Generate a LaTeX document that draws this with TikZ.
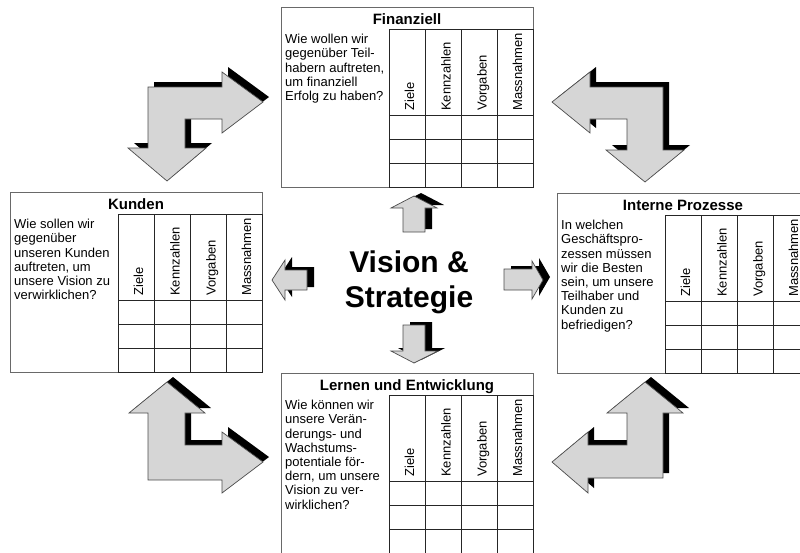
\documentclass[tikz,border=0pt]{standalone}
\usepackage{fontspec}
\setmainfont{Liberation Sans}
\usepackage{tikz}
\usetikzlibrary{shapes,arrows}
\definecolor{pfeilgrau}{RGB}{214,214,214}
\definecolor{rahmengrau}{RGB}{105,105,105}
\tikzstyle{pfeil} = [draw=black!70, line width=0.7pt, fill=pfeilgrau]
\tikzstyle{schatten} = [fill=black]

% Blockpfeil mit Schlagschatten nach rechts oben
\newcommand{\blockpfeil}[2]{%
  \fill[schatten, shift={#1}] #2;
  \draw[pfeil] #2;}

% Karte einer Perspektive: Name, Ecke oben links, Titel, Frage
\newcommand{\karte}[4]{%
  \begin{scope}[shift={#2}]
    \draw[rahmen] (0,0) rectangle (252,180);
    %Tabelle
    \draw[tabelle] (108,22) rectangle (252,180);
    \draw[tabelle] (144.5,22) -- (144.5,180);
    \draw[tabelle] (180.5,22) -- (180.5,180);
    \draw[tabelle] (216.5,22) -- (216.5,180);
    \draw[tabelle] (108,108) -- (252,108);
    \draw[tabelle] (108,132) -- (252,132);
    \draw[tabelle] (108,156) -- (252,156);
    \node[titel] (#1-titel) at (126,17) {#3};
    \node[frage] (#1-frage) at (4,27) {#4};
    \node[spalte] (#1-ziele) at (133,104) {Ziele};
    \node[spalte] (#1-kennzahlen) at (169.5,104) {Kennzahlen};
    \node[spalte] (#1-vorgaben) at (205.5,104) {Vorgaben};
    \node[spalte] (#1-massnahmen) at (241,104) {Massnahmen};
  \end{scope}}

\begin{document}
\begin{tikzpicture}[x=1pt, y=-1pt,   %Pixelraster, y nach unten
    rahmen/.style={draw=rahmengrau, line width=0.9pt},
    tabelle/.style={draw=black!85, line width=1pt},
    titel/.style={anchor=base, inner sep=0pt, font=\fontsize{15}{18}\selectfont\bfseries},
    frage/.style={anchor=north west, inner sep=0pt, align=left, font=\fontsize{13}{14.2}\selectfont},
    spalte/.style={anchor=base west, rotate=90, inner sep=0pt, font=\fontsize{13}{15}\selectfont}]
  \clip (0,0) rectangle (800,552);
  %die vier Perspektiven
  \karte{fin}{(281,7)}{Finanziell}{Wie wollen wir\\gegenüber Teil-\\habern auftreten,\\um finanziell\\Erfolg zu haben?}
  \karte{kun}{(10,192)}{Kunden}{Wie sollen wir\\gegenüber\\unseren Kunden\\auftreten, um\\unsere Vision zu\\verwirklichen?}
  \karte{pro}{(557,193)}{Interne Prozesse}{In welchen\\Geschäftspro-\\zessen müssen\\wir die Besten\\sein, um unsere\\Teilhaber und\\Kunden zu\\befriedigen?}
  \karte{ler}{(281,373)}{Lernen und Entwicklung}{Wie können wir\\unsere Verän-\\derungs- und\\Wachstums-\\potentiale för-\\dern, um unsere\\Vision zu ver-\\wirklichen?}
  %Mitte
  \node[anchor=north, inner sep=0pt, align=center, font=\fontsize{30}{35}\selectfont\bfseries] (vision) at (409,251) {Vision \&\\Strategie};
  %kleine Pfeile
  \blockpfeil{(7,-3)}{(414,196) -- (437,208) -- (425,208) -- (425,232) -- (403,232) -- (403,208) -- (391,208) -- cycle}
  \blockpfeil{(7,-3)}{(403,325) -- (425,325) -- (425,351) -- (438,351) -- (414,363) -- (391,351) -- (403,351) -- cycle}
  \blockpfeil{(7,-3)}{(272,280) -- (285,260) -- (285,270) -- (307,270) -- (307,290) -- (285,290) -- (285,300) -- cycle}
  \blockpfeil{(7,-3)}{(504,269) -- (532,269) -- (532,261) -- (543,280) -- (532,299) -- (532,290) -- (504,290) -- cycle}
  %Winkelpfeile
  \blockpfeil{(6,-5)}{(148,87) -- (222,87) -- (222,72) -- (263,102) -- (222,133) -- (222,119) -- (185,119) -- (185,148) -- (206,148) -- (167,181) -- (128,148) -- (148,148) -- cycle}
  \blockpfeil{(6,-5)}{(552,102) -- (590,72) -- (590,87) -- (663,87) -- (663,150) -- (684,150) -- (645,182) -- (606,150) -- (627,150) -- (627,119) -- (590,119) -- (590,133) -- cycle}
  \blockpfeil{(6,-5)}{(167,382) -- (205,413) -- (185,413) -- (185,445) -- (222,445) -- (222,432) -- (263,462) -- (222,493) -- (222,480) -- (148,480) -- (148,413) -- (129,413) -- cycle}
  \blockpfeil{(6,-5)}{(645,382) -- (683,413) -- (663,413) -- (663,478) -- (588,478) -- (588,493) -- (552,462) -- (588,432) -- (588,445) -- (627,445) -- (627,413) -- (607,413) -- cycle}
\end{tikzpicture}
\end{document}
